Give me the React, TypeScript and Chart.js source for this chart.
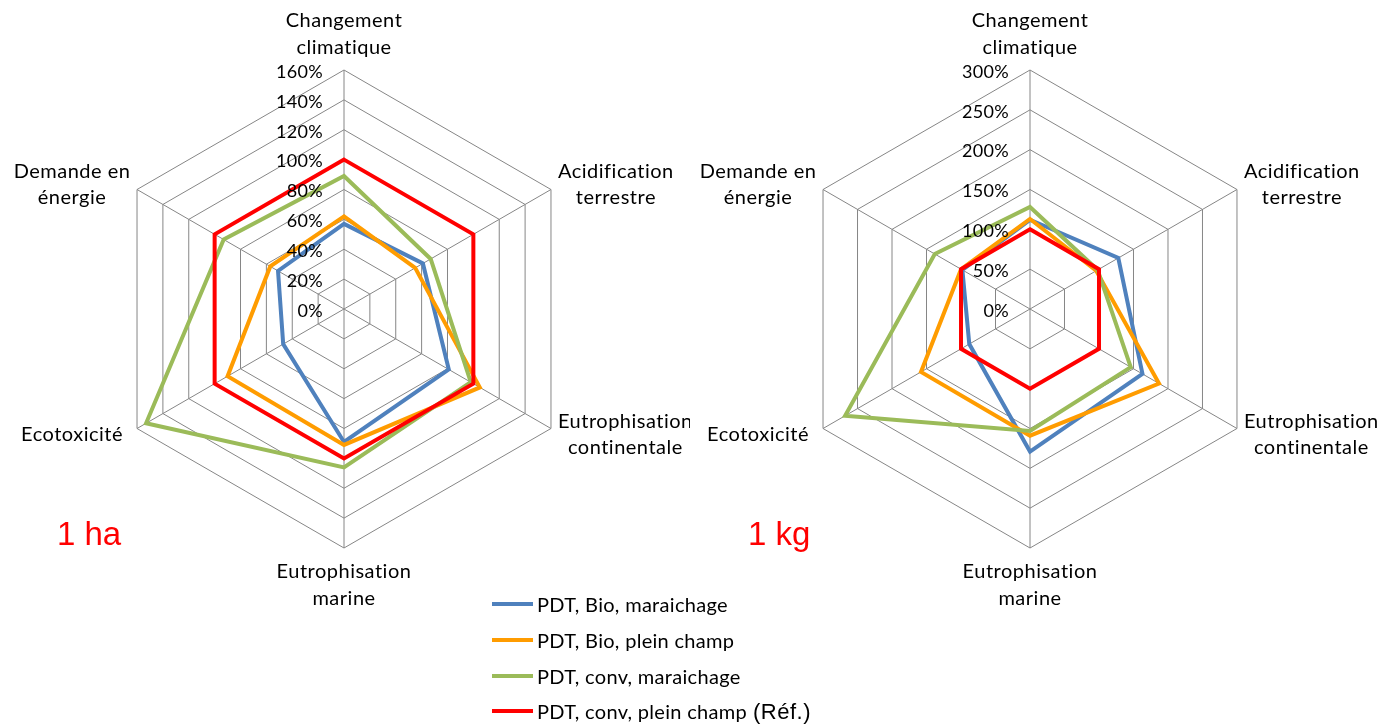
import { useEffect, useRef } from "react";
import { Chart, registerables } from "chart.js";

Chart.register(...registerables);

// Impact categories, clockwise from the top
const axisLabels: string[][] = [
  ["Changement", "climatique"],
  ["Acidification", "terrestre"],
  ["Eutrophisation", "continentale"],
  ["Eutrophisation", "marine"],
  ["Ecotoxicité"],
  ["Demande en", "énergie"],
];

const seriesNames = [
  "PDT, Bio, maraichage",
  "PDT, Bio, plein champ",
  "PDT, conv, maraichage",
  "PDT, conv, plein champ",
];
const seriesColors = ["#4F81BD", "#FF9C00", "#9BBB59", "#FF0000"];

// Impacts per hectare, % of the reference system
const haBioMaraichage = [57, 61, 81, 89, 47, 51];
const haBioPleinChamp = [62, 55, 105, 91, 90, 57];
const haConvMaraichage = [89, 67, 98, 106, 153, 93];
const haConvPleinChamp = [100, 100, 100, 100, 100, 100];

// Impacts per kilogram, % of the reference system
const kgBioMaraichage = [112, 128, 163, 179, 88, 98];
const kgBioPleinChamp = [113, 96, 187, 159, 158, 100];
const kgConvMaraichage = [128, 98, 146, 153, 268, 138];
const kgConvPleinChamp = [100, 100, 100, 100, 100, 100];

const haScaleMax = 160;
const haScaleStep = 20;
const kgScaleMax = 300;
const kgScaleStep = 50;

const LABEL_FONT = '20px Lato, "Open Sans", sans-serif';
const TICK_FONT = '18px Lato, "Open Sans", sans-serif';
const LINE_H = 26.5;
const GRID_COLOR = "#868686";

// Tick values and category names drawn from the radial scale geometry
const radarText = {
  id: "radarText",
  afterDraw(chart: any) {
    const scale = chart.scales.r;
    const ctx: any = chart.ctx;
    ctx.save();
    ctx.fillStyle = "#000";
    ctx.font = TICK_FONT;
    ctx.letterSpacing = "0.3px";
    ctx.textAlign = "right";
    ctx.textBaseline = "middle";
    scale.ticks.forEach((t: any) => {
      const y = scale.yCenter - scale.getDistanceFromCenterForValue(t.value);
      ctx.fillText(`${t.value}%`, scale.xCenter - 21, y + 2);
    });

    ctx.font = LABEL_FONT;
    ctx.letterSpacing = "0.5px";
    ctx.textAlign = "center";
    axisLabels.forEach((lines, i) => {
      const p = scale.getPointPosition(i, scale.drawingArea);
      const widest = Math.max(...lines.map((l) => ctx.measureText(l).width));
      const n = lines.length;
      let cx = p.x;
      let firstY = p.y;
      if (i === 0) {
        firstY = p.y - 49;
      } else if (i === 3) {
        firstY = p.y + 24;
      } else {
        const cy = i === 1 || i === 5 ? p.y - 5 : p.y + 6;
        firstY = cy - ((n - 1) * LINE_H) / 2;
        cx = i < 3 ? p.x + 7 + widest / 2 : p.x - 65;
      }
      lines.forEach((l, k) => ctx.fillText(l, cx, firstY + k * LINE_H));
    });
    ctx.restore();
  },
};

function RadarPanel(props: {
  left: number;
  width: number;
  padding: { left: number; right: number; top: number; bottom: number };
  max: number;
  step: number;
  series: number[][];
}) {
  const ref = useRef<HTMLCanvasElement>(null);

  useEffect(() => {
    if (!ref.current) return;
    const chart = new Chart(ref.current, {
      type: "radar",
      data: {
        labels: axisLabels.map((l) => l.join(" ")),
        datasets: props.series.map((values, i) => ({
          label: seriesNames[i],
          data: values,
          borderColor: seriesColors[i],
          backgroundColor: seriesColors[i],
          borderWidth: 4,
          pointRadius: 0,
          pointHoverRadius: 0,
          fill: false,
          tension: 0,
          order: props.series.length - 1 - i,
        })),
      },
      options: {
        responsive: false,
        animation: false,
        layout: { padding: props.padding },
        plugins: { legend: { display: false }, tooltip: { enabled: false } },
        scales: {
          r: {
            min: 0,
            max: props.max,
            ticks: { stepSize: props.step, display: false },
            grid: { color: GRID_COLOR, lineWidth: 1, circular: false },
            angleLines: { color: GRID_COLOR, lineWidth: 1 },
            pointLabels: { display: false },
          },
        },
      },
      plugins: [radarText],
    });
    return () => chart.destroy();
  }, []);

  return (
    <canvas
      ref={ref}
      width={props.width}
      height={724}
      style={{ position: "absolute", left: props.left, top: 0 }}
    />
  );
}

export default function App() {
  const legendY = [604, 640, 676, 711];
  return (
    <div
      style={{
        position: "absolute",
        left: 0,
        top: 0,
        width: 1379,
        height: 724,
        background: "#fff",
        overflow: "hidden",
      }}
    >
      <RadarPanel
        left={0}
        width={690}
        padding={{ left: 105, right: 107, top: 70, bottom: 176 }}
        max={haScaleMax}
        step={haScaleStep}
        series={[haBioMaraichage, haBioPleinChamp, haConvMaraichage, haConvPleinChamp]}
      />
      <RadarPanel
        left={690}
        width={689}
        padding={{ left: 101, right: 109, top: 70, bottom: 176 }}
        max={kgScaleMax}
        step={kgScaleStep}
        series={[kgBioMaraichage, kgBioPleinChamp, kgConvMaraichage, kgConvPleinChamp]}
      />

      <div
        style={{
          position: "absolute",
          left: 57,
          top: 514,
          font: '33px "Liberation Sans", Arial, sans-serif',
          color: "#FF0000",
          lineHeight: "40px",
        }}
      >
        1 ha
      </div>
      <div
        style={{
          position: "absolute",
          left: 748,
          top: 514,
          font: '33px "Liberation Sans", Arial, sans-serif',
          color: "#FF0000",
          lineHeight: "40px",
        }}
      >
        1 kg
      </div>

      {seriesNames.map((name, i) => (
        <div key={name}>
          <div
            style={{
              position: "absolute",
              left: 492,
              top: legendY[i] - 2,
              width: 41,
              height: 4,
              background: seriesColors[i],
            }}
          />
          <div
            style={{
              position: "absolute",
              left: 537,
              top: legendY[i] - 13,
              font: LABEL_FONT,
              letterSpacing: "0.3px",
              lineHeight: "26px",
              color: "#000",
              whiteSpace: "nowrap",
            }}
          >
            {name}
            {i === 3 ? (
              <span
                style={{
                  font: '22px "Liberation Sans", Arial, sans-serif',
                  letterSpacing: "0.5px",
                  marginLeft: 6,
                }}
              >
                (Réf.)
              </span>
            ) : null}
          </div>
        </div>
      ))}
    </div>
  );
}
